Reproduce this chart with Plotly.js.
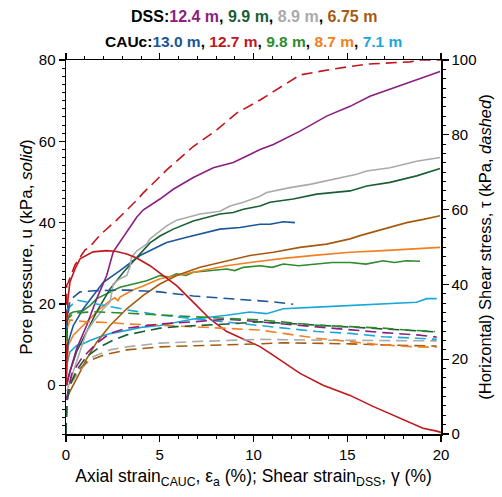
<!DOCTYPE html>
<html><head><meta charset="utf-8">
<script src="https://cdn.plot.ly/plotly-3.0.1.min.js"></script>
<style>body{margin:0;padding:0;background:#fff}#plot{width:502px;height:497px}</style>
</head><body><div id="plot"></div>
<script>
// ---- Pore pressure u (kPa), solid lines, left axis ----
const dss124_u_x = [0.04,0.21,0.57,1.10,1.64,2.17,2.52,3.24,3.77,4.11,5.01,5.72,6.79,7.86,8.92,9.64,10.35,11.06,12.48,13.90,15.15,16.21,17.46,18.70,19.95];
const dss124_u_y = [0,3.4,9.0,14.7,21.3,27.0,32.8,37.7,41.3,43.1,45.8,48.2,51.1,53.5,54.8,56.4,58.0,59.2,62.5,66.2,68.6,71.1,73.1,75.2,77.2];
const dss99_u_x = [0.02,0.21,0.57,1.10,1.64,2.35,3.06,3.95,4.48,5.01,5.72,6.79,7.50,8.21,8.92,9.46,10.35,10.88,12.12,13.37,15.15,16.04,17.28,18.70,19.95];
const dss99_u_y = [0,3.4,8.3,13.2,18.1,23.7,27.8,32.3,35.0,36.7,38.4,40.4,41.3,42.1,42.5,43.3,44.1,45.0,45.8,47.0,47.8,49.0,49.9,51.5,53.3];
const dss89_u_x = [0.04,0.39,0.75,1.10,1.46,1.99,2.35,2.52,2.88,3.24,3.41,3.50,3.77,4.30,4.48,5.01,5.37,5.90,6.79,7.15,8.21,8.75,9.46,10.35,10.70,11.95,13.01,14.24,15.50,16.04,17.28,18.70,19.95];
const dss89_u_y = [-1.5,3.4,8.3,13.2,15.6,18.8,20.5,24.9,26.2,27.0,29.1,31.5,33.0,34.7,36.0,38.0,39.2,40.6,41.7,42.1,42.8,44.1,45.0,46.5,47.4,48.6,49.4,50.7,51.9,52.7,53.5,55.1,56.0];
const dss675_u_x = [0.04,0.21,0.57,1.10,1.64,2.35,3.24,4.12,5.01,5.90,7.15,8.57,9.81,11.06,12.48,13.90,15.15,15.68,16.92,18.17,19.06,19.95];
const dss675_u_y = [-3.3,-1.5,1.6,6.5,10.6,14.7,18.8,22.1,24.9,27.0,29.0,30.6,31.9,32.7,33.9,34.7,36.0,36.8,38.4,40.0,40.8,41.7];
const cau130_u_x = [0,0.04,0.12,0.39,0.92,1.46,1.99,2.88,3.95,5.01,5.37,6.44,7.50,8.21,9.28,10.35,10.88,11.59,12.21];
const cau130_u_y = [0,6.5,10.6,14.7,18.8,22.1,25.3,28.2,31.9,34.3,35.1,36.4,37.6,38.4,38.8,39.6,39.6,40.2,40.0];
const cau127_u_x = [0,0.1,0.21,0.48,0.75,0.92,1.44,2.17,2.70,3.24,3.77,4.48,5.01,5.90,6.77,7.68,8.57,9.44,10.35,11.04,12.48,13.71,15.15,16.37,17.81,19.04,19.77,20];
const cau127_u_y = [0,21,25.4,28.6,31.1,31.5,32.8,33.1,32.9,32.3,31.3,29.4,27.6,24.5,20.5,16.3,13.2,11.4,9.5,7.4,2.9,0,-2.5,-5.2,-8.2,-10.6,-11.3,-11.6];
const cau98_u_x = [0,0.04,0.21,0.39,0.92,1.28,1.64,2.17,2.88,3.59,4.30,5.01,5.5,5.90,6.4,6.79,7.7,8.57,9.0,9.46,10.35,11.0,11.59,12.4,13.37,14.2,15.15,16.0,16.92,17.5,18.17,18.88];
const cau98_u_y = [0,15.5,17.6,18.0,18.4,19.6,21.3,22.5,24.1,24.9,25.7,27.0,26.6,27.4,27.0,27.8,28.2,28.6,28.2,29.0,29.4,29.0,29.8,29.4,29.8,30.2,30.2,29.8,30.6,30.2,30.6,30.5];
const cau87_u_x = [0,0.04,0.12,0.39,0.75,1.28,1.81,2.35,2.61,2.77,2.88,3.59,4.12,5.01,5.90,7.15,8.57,9.81,11.59,13.37,15.15,16.92,18.70,19.95];
const cau87_u_y = [0,4.9,9.8,12.3,13.9,16.3,18.8,20.8,21.5,20.8,21.7,23.5,24.4,26.2,27.0,28.2,29.4,30.2,31.2,32.0,32.7,33.1,33.5,33.9];
const cau71_u_x = [0,0.04,0.21,0.57,0.92,1.28,1.81,2.35,3.24,4.12,5.01,5.90,6.79,8.57,9.81,10.70,11.59,13.37,15.15,16.92,18.70,19.24,19.77];
const cau71_u_y = [0,4.9,8.2,9.8,10.2,11.0,11.9,12.7,13.5,14.3,14.7,15.5,16.3,17.2,18.0,17.6,18.8,19.2,19.6,20.0,20.4,21.3,21.3];

// ---- Shear stress tau (kPa), dashed lines, right axis ----
const dss124_t_x = [0,0.05,0.3,0.8,1.64,2.35,3.24,4.12,5.01,6.79,8.57,9.81,11.59,13.37,15.15,16.92,18.70,19.77];
const dss124_t_y = [0,10,16,20,24.3,26.9,28.3,28.9,29.4,30.0,30.7,30.2,29.4,28.7,27.8,27.1,26.5,25.9];
const dss99_t_x = [0,0.03,0.21,0.57,1.10,1.81,2.52,3.24,4.12,5.01,5.90,6.79,8.57,10.35,11.59,13.37,15.15,16.92,18.70,19.77];
const dss99_t_y = [0,7.8,13.1,17.1,20.7,23.3,25.1,26.5,27.4,28.3,28.7,28.9,29.4,30.0,29.7,29.1,28.6,28.1,27.5,27.3];
const dss89_t_x = [0,0.04,0.21,0.75,1.46,2.35,3.24,4.12,5.01,6.79,8.57,10.35,13.37,16.92,19.77];
const dss89_t_y = [0,9.1,13.1,17.1,20.7,22.5,23.3,23.8,24.3,24.7,24.9,25.3,25.1,25.1,24.9];
const dss675_t_x = [0,0.05,0.21,0.57,1.10,1.99,3.24,5.01,6.79,8.57,10.35,11.59,13.37,15.15,16.92,18.70,19.77];
const dss675_t_y = [0,9.1,13.1,16.6,19.3,21.1,22.5,23.3,23.6,23.8,24.1,24.4,24.3,24.1,23.8,23.5,23.5];
const cau130_t_x = [0,0.21,0.75,1.46,3.24,5.01,6.79,8.57,10.35,10.88,12.12];
const cau130_t_y = [27.8,35.8,38.0,38.3,38.5,38.0,36.9,36.3,35.6,35.4,34.7];
const cau127_t_x = [0,0.04,0.12,0.48,1.01,1.28,1.81,2.70,3.79,4.11,5.37,6.77,8.04,9.10,10.35,11.04,12.48,14.24,16.05,18.35,18.9,20];
const cau127_t_y = [30,39.8,40.5,45.2,49.2,50.1,53.2,57.2,62.6,64.4,70.6,76.8,81.3,85.8,89.3,91.5,96.0,97.6,98.9,99.5,100,100];
const cau98_t_x = [0,0.04,0.39,1.46,3.24,5.01,6.79,8.57,10.35,11.59,13.37,15.15,16.92,18.17,19.68];
const cau98_t_y = [25,30.5,32.3,32.7,32.3,31.8,31.4,30.9,30.5,30.0,29.1,28.7,28.3,27.8,27.4];
const cau87_t_x = [0,0.03,0.21,1.10,2.35,3.24,5.01,6.79,8.57,10.35,11.59,13.37,15.15,16.92,18.70,19.77];
const cau87_t_y = [24,27.8,30.5,30.0,29.8,29.4,29.1,28.7,28.3,27.8,26.9,25.6,24.7,23.8,23.3,23.2];
const cau71_t_x = [0,0.04,0.57,1.46,2.35,3.24,5.01,6.79,8.57,10.35,11.59,13.37,15.15,16.92,18.70,19.77];
const cau71_t_y = [28,33.2,35.8,34.9,34.0,33.2,31.8,30.9,30.0,29.1,28.3,27.4,26.9,26.0,25.6,25.3];

const colors = {purple:'#8B1E82', dgreen:'#1A5E35', gray:'#AAAAAA', brown:'#A65A11',
  blue:'#1B5699', red:'#C1161E', green:'#2E8B2E', orange:'#F37F21', cyan:'#1AA7D9'};

function solid(x,y,c){return {x:x,y:y,type:'scatter',mode:'lines',line:{color:c,width:1.6},yaxis:'y',hoverinfo:'skip'};}
function dashed(x,y,c){return {x:x,y:y,type:'scatter',mode:'lines',line:{color:c,width:1.6,dash:'11px,6px'},yaxis:'y2',hoverinfo:'skip'};}

const traces = [
  dashed(dss89_t_x,dss89_t_y,colors.gray),
  dashed(dss675_t_x,dss675_t_y,colors.brown),
  dashed(cau87_t_x,cau87_t_y,colors.orange),
  dashed(cau71_t_x,cau71_t_y,colors.cyan),
  dashed(dss124_t_x,dss124_t_y,colors.purple),
  dashed(dss99_t_x,dss99_t_y,colors.dgreen),
  dashed(cau98_t_x,cau98_t_y,colors.green),
  dashed(cau130_t_x,cau130_t_y,colors.blue),
  dashed(cau127_t_x,cau127_t_y,colors.red),
  solid(cau71_u_x,cau71_u_y,colors.cyan),
  solid(cau98_u_x,cau98_u_y,colors.green),
  solid(cau87_u_x,cau87_u_y,colors.orange),
  solid(dss675_u_x,dss675_u_y,colors.brown),
  solid(cau130_u_x,cau130_u_y,colors.blue),
  solid(dss99_u_x,dss99_u_y,colors.dgreen),
  solid(dss89_u_x,dss89_u_y,colors.gray),
  solid(dss124_u_x,dss124_u_y,colors.purple),
  solid(cau127_u_x,cau127_u_y,colors.red)
];

const F = 'Liberation Sans, Arial, Helvetica, sans-serif';
const tickFont = {family:F,size:15,color:'#000'};
const line1 = '<b>DSS:<span style="color:'+colors.purple+'">12.4 m</span>, <span style="color:'+colors.dgreen+'">9.9 m</span>, <span style="color:'+colors.gray+'">8.9 m</span>, <span style="color:'+colors.brown+'">6.75 m</span></b>';
const line2 = '<b>CAUc:<span style="color:'+colors.blue+'">13.0 m</span>, <span style="color:'+colors.red+'">12.7 m</span>, <span style="color:'+colors.green+'">9.8 m</span>, <span style="color:'+colors.orange+'">8.7 m</span>, <span style="color:'+colors.cyan+'">7.1 m</span></b>';

const layout = {
  width:502, height:497,
  margin:{l:66,r:61,t:60,b:63},
  paper_bgcolor:'#fff', plot_bgcolor:'#fff',
  showlegend:false,
  font:{family:F,size:15,color:'#000'},
  xaxis:{range:[0,20], tickvals:[0,5,10,15,20], showgrid:false, zeroline:false,
    showline:true, linecolor:'#000', linewidth:1.5, mirror:'ticks',
    ticks:'outside', ticklen:6, tickwidth:1.2, tickcolor:'#000', tickfont:tickFont,
    minor:{dtick:1, ticklen:3, tickwidth:1, tickcolor:'#000', ticks:'outside'},
    title:{text:'Axial strain<sub>CAUC</sub>, ε<sub>a</sub> (%); Shear strain<sub>DSS</sub>, γ (%)', font:{family:F,size:17.5}, standoff:8}},
  yaxis:{range:[-12,80], tickvals:[0,20,40,60,80], showgrid:false, zeroline:false,
    showline:true, linecolor:'#000', linewidth:1.5,
    ticks:'outside', ticklen:6, tickwidth:1.2, tickcolor:'#000', tickfont:tickFont,
    minor:{tick0:0, dtick:2, ticklen:3, tickwidth:1, tickcolor:'#000', ticks:'outside'},
    title:{text:'Pore pressure, u (kPa, <i>solid</i>)', font:{family:F,size:17}, standoff:2}},
  yaxis2:{range:[0,100], tickvals:[0,20,40,60,80,100], overlaying:'y', side:'right', showgrid:false, zeroline:false,
    showline:true, linecolor:'#000', linewidth:1.5,
    ticks:'outside', ticklen:6, tickwidth:1.2, tickcolor:'#000', tickfont:tickFont,
    minor:{dtick:2.5, ticklen:3, tickwidth:1, tickcolor:'#000', ticks:'outside'},
    title:{text:'(Horizontal) Shear stress, τ (kPa, <i>dashed</i>)', font:{family:F,size:16.5}, standoff:4}},
  annotations:[
    {text:line1, xref:'paper', yref:'paper', x:0.5, y:1, yshift:44, xanchor:'center', yanchor:'middle', showarrow:false, font:{family:F,size:16,color:'#000'}},
    {text:line2, xref:'paper', yref:'paper', x:0.5, y:1, yshift:19, xanchor:'center', yanchor:'middle', showarrow:false, font:{family:F,size:15.5,color:'#000'}}
  ]
};

Plotly.newPlot('plot', traces, layout, {staticPlot:true, displayModeBar:false});
</script></body></html>
